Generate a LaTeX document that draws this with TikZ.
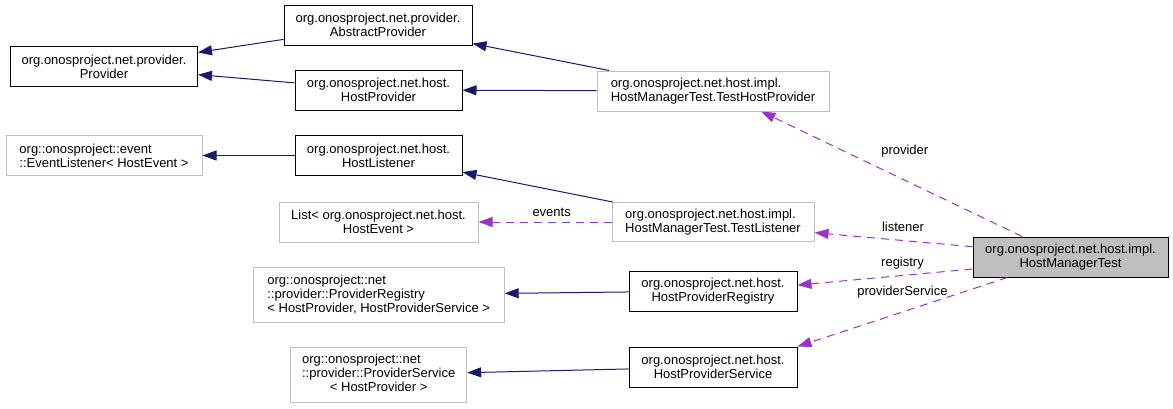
\documentclass[tikz,border=0pt]{standalone}
\usepackage{fontspec}
\setmainfont{Liberation Sans}
\usetikzlibrary{arrows.meta}
\definecolor{inheritblue}{RGB}{25,25,112}
\definecolor{usagepurple}{RGB}{154,50,205}
\definecolor{grey75}{RGB}{191,191,191}
\newcommand{\dxfont}{\fontsize{13}{14}\selectfont}
\tikzset{
  cls/.style = {draw=black,fill=white,line width=1,inner sep=0pt,align=center,font=\dxfont},
  extcls/.style = {cls,draw=grey75},
  current/.style = {cls,fill=grey75},
  %
  inherit/.style = {->,>={Triangle[length=14pt,width=10pt]},line width=1,draw=inheritblue},
  usage/.style = {->,>={Triangle[length=14pt,width=10pt]},line width=1,draw=usagepurple,dash pattern=on 8pt off 6pt},
  edgelabel/.style = {font=\dxfont,text=black,inner sep=2pt},
}

\begin{document}
\begin{tikzpicture}[x=1pt,y=-1pt]
    \useasboundingbox (0,0) rectangle (1173,408);

    \node[cls,minimum width=187,minimum height=40] at (104,66.7) (provider) {org.onosproject.net.provider.\\Provider};
    \node[cls,minimum width=188,minimum height=40] at (378,25) (absprov) {org.onosproject.net.provider.\\AbstractProvider};
    \node[cls,minimum width=167,minimum height=40] at (378.5,90) (hostprov) {org.onosproject.net.host.\\HostProvider};
    \node[extcls,align=left,minimum width=196,minimum height=40] at (104,155.5) (evlistener) {org::onosproject::event\\::EventListener< HostEvent >};
    \node[cls,minimum width=167,minimum height=40] at (378.5,155.5) (hostlist) {org.onosproject.net.host.\\HostListener};
    \node[extcls,minimum width=199,minimum height=40] at (378.5,222) (hostevents) {List< org.onosproject.net.host.\\HostEvent >};
    \node[extcls,align=left,minimum width=251,minimum height=55] at (378.7,294.8) (provreg) {org::onosproject::net\\::provider::ProviderRegistry\\< HostProvider, HostProviderService >};
    \node[extcls,minimum width=176,minimum height=55] at (378.7,374.7) (provsvc) {\begin{tabular}{@{}l@{}}org::onosproject::net\\::provider::ProviderService\\\multicolumn{1}{@{}c@{}}{< HostProvider >}\end{tabular}};

    \node[extcls,align=left,minimum width=232,minimum height=40] at (713,91) (testprov) {org.onosproject.net.host.impl.\\HostManagerTest.TestHostProvider};
    \node[extcls,align=left,minimum width=202,minimum height=39] at (713,222) (testlist) {org.onosproject.net.host.impl.\\HostManagerTest.TestListener};
    \node[cls,minimum width=168,minimum height=40] at (713,291) (hostreg) {org.onosproject.net.host.\\HostProviderRegistry};
    \node[cls,minimum width=168,minimum height=40] at (713,367) (hostsvc) {org.onosproject.net.host.\\HostProviderService};

    \node[current,minimum width=195,minimum height=40] at (1070.5,257) (mgrtest) {org.onosproject.net.host.impl.\\HostManagerTest};


    \draw[inherit] (absprov) to (provider);
    \draw[inherit] (hostprov) to (provider);
    \draw[inherit] (testprov) to (absprov);
    \draw[inherit] (testprov) to (hostprov);
    \draw[inherit] (hostlist) to (evlistener);
    \draw[inherit] (testlist) to (hostlist);
    \draw[inherit] (hostreg) to (provreg);
    \draw[inherit] (hostsvc) to (provsvc);

    \draw[usage] (testlist) to node[edgelabel,pos=0.45,above=3pt] {events} (hostevents);
    \draw[usage] (mgrtest.157) to node[edgelabel,pos=0.68,xshift=60] {provider} (testprov.-23);
    \draw[usage] (mgrtest.174) to node[edgelabel,pos=0.44,above=6pt] {listener} (testlist.-6);
    \draw[usage] (mgrtest.187) to node[edgelabel,pos=0.4,above=4pt] {registry} (hostreg.4);
    \draw[usage] (mgrtest.198) to node[edgelabel,pos=0.5,above=11pt] {providerService} (hostsvc.north east);

\end{tikzpicture}
\end{document}
